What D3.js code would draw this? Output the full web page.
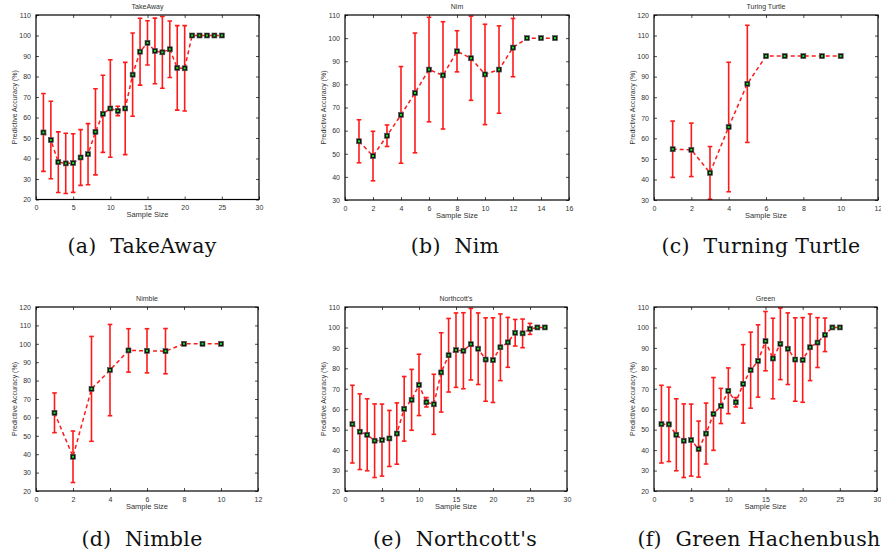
<!DOCTYPE html>
<html>
<head>
<meta charset="utf-8">
<script src="https://cdn.jsdelivr.net/npm/d3@7"></script>
<style>
  body { margin: 0; background: #fff; }
  svg { display: block; }
</style>
</head>
<body>
<svg id="chart" width="881" height="552"></svg>
<script>
// Mean predictive accuracy (%) and error-bar half widths, one pair per game
const takeawayMean = [52.7, 49, 38.2, 37.6, 37.8, 40.5, 42.1, 53, 61.8, 64.4, 63.2, 64.4, 80.9, 92.1, 96.4, 92.5, 91.8, 93.3, 84.2, 84, 100, 100, 100, 100, 100];
const takeawayErr  = [19, 18.9, 14.8, 14.7, 14.3, 13.6, 14.9, 21, 18.8, 23.8, 2.3, 22.5, 20.3, 16.3, 10.8, 16, 17.5, 13.8, 20.6, 20.8, 0, 0, 0, 0, 0];

const nimMean = [55.4, 49, 57.8, 66.8, 76.3, 86.4, 83.9, 94.3, 91.3, 84.3, 86.4, 95.9, 100, 100, 100];
const nimErr  = [9.3, 10.7, 4.65, 20.9, 25.9, 22.6, 23.2, 8.9, 18.2, 21.7, 18.9, 12.6, 0, 0, 0];

const turtleMean = [54.7, 54.4, 43.2, 65.5, 86.5, 100, 100, 100, 100, 100];
const turtleErr  = [13.7, 13, 12.8, 31.5, 28.5, 0, 0, 0, 0, 0];

const nimbleMean = [62.5, 38.6, 75.5, 85.7, 96.4, 96.2, 96, 100, 100, 100];
const nimbleErr  = [10.8, 14, 28.5, 24.8, 11.8, 12, 12.3, 0, 0, 0];

const northcottMean = [52.7, 49, 47.5, 44.6, 44.9, 45.7, 48.1, 60.2, 64.6, 71.9, 63.4, 62.4, 78, 86.4, 88.9, 88.6, 91.8, 89.6, 84.3, 84, 90.3, 92.7, 97.4, 97.1, 99.3, 100, 100];
const northcottErr  = [19, 18.5, 17.6, 18, 17.6, 13.7, 15, 15.8, 14.9, 15, 2.3, 14.7, 19.4, 18, 18.2, 18.6, 17.5, 17.5, 20.4, 20.7, 16.3, 12.2, 6.5, 7, 2.7, 0, 0];

const greenMean = [52.7, 52.6, 47.5, 44.6, 44.9, 40.5, 48.1, 57.7, 61.6, 69, 63.4, 72.4, 79.1, 83.6, 93.3, 84.8, 92, 89.6, 84.3, 84.1, 90.3, 92.6, 96.4, 100, 100];
const greenErr  = [19, 18.2, 17.6, 18, 17.6, 13.7, 14.9, 17.8, 8.6, 11.2, 2.3, 19.2, 18.6, 17.7, 14.5, 19.7, 17.5, 17.5, 20.4, 20.7, 16.3, 12.2, 8.2, 0, 0];

const titles   = ["TakeAway", "Nim", "Turing Turtle", "Nimble", "Northcott's", "Green"];
const captions = ["(a)  TakeAway", "(b)  Nim", "(c)  Turning Turtle", "(d)  Nimble", "(e)  Northcott's", "(f)  Green Hachenbush"];
const xTicks = [[0, 5, 10, 15, 20, 25, 30], [0, 2, 4, 6, 8, 10, 12, 14, 16], [0, 2, 4, 6, 8, 10, 12],
                [0, 2, 4, 6, 8, 10, 12], [0, 5, 10, 15, 20, 25, 30], [0, 5, 10, 15, 20, 25, 30]];
const yTicks = [d3.range(20, 111, 10), d3.range(30, 111, 10), d3.range(30, 121, 10),
                d3.range(20, 121, 10), d3.range(20, 111, 10), d3.range(20, 111, 10)];
const means = [takeawayMean, nimMean, turtleMean, nimbleMean, northcottMean, greenMean];
const errs  = [takeawayErr, nimErr, turtleErr, nimbleErr, northcottErr, greenErr];

// plot boxes in pixels [left, right, top, bottom]
const boxes = [
  [36, 259, 15, 199.5], [345, 569, 15, 200], [654, 878, 15, 200],
  [36, 258, 307, 491], [345, 567, 307, 491], [654, 877, 307, 491]
];
const captionX = [142, 455, 761, 142, 455, 759];
const captionY = [253, 253, 253, 546, 546, 546];

const svg = d3.select("#chart");
const tickFont = "Liberation Sans, Arial, sans-serif";

function drawPanel(i)
{
  const [l, r, t, b] = boxes[i];
  const xt = xTicks[i], yt = yTicks[i];
  const x = d3.scaleLinear().domain([xt[0], xt[xt.length - 1]]).range([l, r]);
  const y = d3.scaleLinear().domain([yt[0], yt[yt.length - 1]]).range([b, t]);
  const data = means[i].map((m, k) => ({ x: k + 1, m: m, e: errs[i][k] }));

  const g = svg.append("g");

  g.append("clipPath").attr("id", "clip" + i)
    .append("rect").attr("x", l).attr("y", t).attr("width", r - l).attr("height", b - t);

  // axes with inward ticks, mirrored on the opposite side
  const tl = 3;
  g.append("g").attr("transform", `translate(0,${b})`)
    .call(d3.axisBottom(x).tickValues(xt).tickSizeInner(-tl).tickSizeOuter(0).tickPadding(6))
    .call(a => a.select(".domain").remove());
  g.append("g").attr("transform", `translate(0,${t})`)
    .call(d3.axisTop(x).tickValues(xt).tickSizeInner(-tl).tickSizeOuter(0).tickFormat(""))
    .call(a => a.select(".domain").remove());
  g.append("g").attr("transform", `translate(${l},0)`)
    .call(d3.axisLeft(y).tickValues(yt).tickSizeInner(-tl).tickSizeOuter(0).tickPadding(5))
    .call(a => a.select(".domain").remove());
  g.append("g").attr("transform", `translate(${r},0)`)
    .call(d3.axisRight(y).tickValues(yt).tickSizeInner(-tl).tickSizeOuter(0).tickFormat(""))
    .call(a => a.select(".domain").remove());
  g.selectAll(".tick line").attr("stroke", "#222").attr("stroke-width", 0.8);
  g.selectAll(".tick text").attr("font-family", tickFont).attr("font-size", 7).attr("fill", "#333");

  const plot = g.append("g").attr("clip-path", `url(#clip${i})`);

  // dashed connecting line
  plot.append("path")
    .datum(data)
    .attr("fill", "none")
    .attr("stroke", "#ff1a1a")
    .attr("stroke-width", 1.5)
    .attr("stroke-dasharray", "4,3")
    .attr("d", d3.line().x(d => x(d.x)).y(d => y(d.m)));

  // error bars
  const eb = plot.selectAll("g.eb").data(data.filter(d => d.e > 0)).join("g")
    .attr("stroke", "#ff1a1a").attr("stroke-width", 1.6);
  eb.append("line").attr("x1", d => x(d.x)).attr("x2", d => x(d.x))
    .attr("y1", d => y(d.m - d.e)).attr("y2", d => y(d.m + d.e));
  eb.append("line").attr("x1", d => x(d.x) - 2.3).attr("x2", d => x(d.x) + 2.3)
    .attr("y1", d => y(d.m + d.e)).attr("y2", d => y(d.m + d.e));
  eb.append("line").attr("x1", d => x(d.x) - 2.3).attr("x2", d => x(d.x) + 2.3)
    .attr("y1", d => y(d.m - d.e)).attr("y2", d => y(d.m - d.e));

  // square markers with green centre
  const mk = g.selectAll("g.mk").data(data).join("g");
  mk.append("rect")
    .attr("x", d => x(d.x) - 2.5).attr("y", d => y(d.m) - 2.5)
    .attr("width", 5).attr("height", 5)
    .attr("fill", "#111").attr("stroke", "#555").attr("stroke-width", 0.6);
  mk.append("rect")
    .attr("x", d => x(d.x) - 1).attr("y", d => y(d.m) - 1)
    .attr("width", 2).attr("height", 2)
    .attr("fill", "#22dd22");

  // box
  g.append("rect").attr("x", l).attr("y", t).attr("width", r - l).attr("height", b - t)
    .attr("fill", "none").attr("stroke", "#000").attr("stroke-width", 1.2);

  // labels
  g.append("text").attr("x", (l + r) / 2).attr("y", t - 6).attr("text-anchor", "middle")
    .attr("font-family", tickFont).attr("font-size", 7).attr("fill", "#333").text(titles[i]);
  g.append("text").attr("x", (l + r) / 2).attr("y", b + 17.5).attr("text-anchor", "middle")
    .attr("font-family", tickFont).attr("font-size", 7.5).attr("fill", "#333").text("Sample Size");
  g.append("text")
    .attr("transform", `translate(${l - 19.5},${(t + b) / 2}) rotate(-90)`)
    .attr("text-anchor", "middle")
    .attr("font-family", tickFont).attr("font-size", 7).attr("fill", "#333")
    .text("Predictive Accuracy (%)");

  // sub-figure caption
  svg.append("text").attr("x", captionX[i]).attr("y", captionY[i]).attr("text-anchor", "middle")
    .attr("font-family", "DejaVu Serif, Liberation Serif, serif").attr("font-size", 20.5)
    .attr("letter-spacing", 0.3)
    .attr("fill", "#111").attr("xml:space", "preserve").style("white-space", "pre")
    .text(captions[i]);
}

for (let i = 0; i < 6; i++) drawPanel(i);
</script>
</body>
</html>
